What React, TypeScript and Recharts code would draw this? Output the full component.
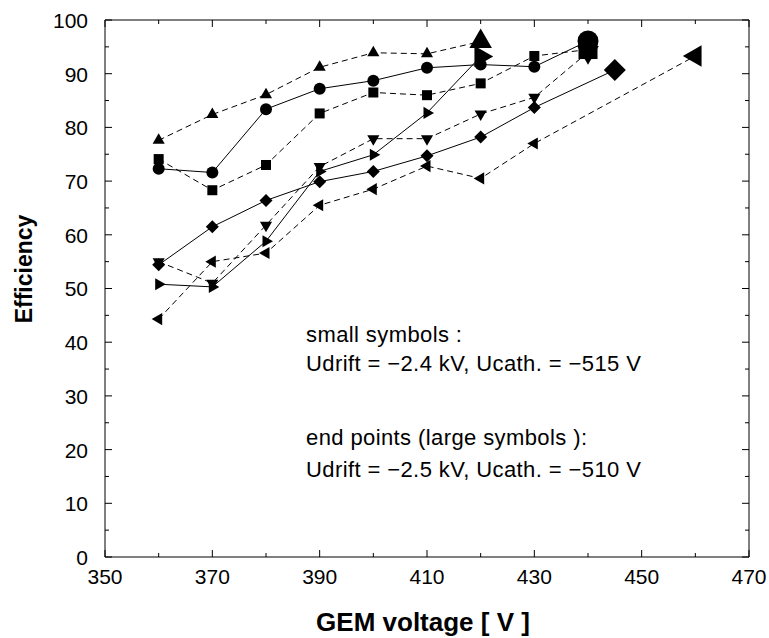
import React from 'react';
import { LineChart, Line, XAxis, YAxis } from 'recharts';

// GEM voltage [V] and efficiency values per marker series
const triUpVoltage = [360, 370, 380, 390, 400, 410, 420];
const triUpEff = [77.6, 82.4, 86.1, 91.2, 93.9, 93.7, 96.0];

const squareVoltage = [360, 370, 380, 390, 400, 410, 420, 430, 440];
const squareEff = [74.1, 68.3, 73.0, 82.6, 86.5, 86.0, 88.2, 93.3, 94.5];

const triDownVoltage = [360, 370, 380, 390, 400, 410, 420, 430, 440];
const triDownEff = [55.0, 51.0, 61.8, 72.7, 77.9, 77.9, 82.5, 85.6, 94.0];

const circleVoltage = [360, 370, 380, 390, 400, 410, 420, 430, 440];
const circleEff = [72.3, 71.6, 83.4, 87.2, 88.7, 91.1, 91.7, 91.3, 96.1];

const triRightVoltage = [360, 370, 380, 390, 400, 410, 420];
const triRightEff = [50.8, 50.3, 58.8, 71.8, 74.9, 82.7, 93.2];

const diamondVoltage = [360, 370, 380, 390, 400, 410, 420, 430, 445];
const diamondEff = [54.4, 61.5, 66.4, 69.9, 71.8, 74.7, 78.2, 83.7, 90.7];

const triLeftVoltage = [360, 370, 380, 390, 400, 410, 420, 430, 460];
const triLeftEff = [44.3, 55.0, 56.6, 65.5, 68.5, 72.8, 70.5, 77.0, 93.3];

const xTicks = [350, 360, 370, 380, 390, 400, 410, 420, 430, 440, 450, 460, 470];
const yTicks = [0, 5, 10, 15, 20, 25, 30, 35, 40, 45, 50, 55, 60, 65, 70, 75, 80, 85, 90, 95, 100];

const annotationLines = [
  'small symbols :',
  'Udrift = \u22122.4 kV, Ucath. = \u2212515 V',
  'end points (large symbols ):',
  'Udrift = \u22122.5 kV, Ucath. = \u2212510 V',
];

const FONT = '"Liberation Sans", Arial, Helvetica, sans-serif';

type Pt = { v: number; e: number };
const zip = (xs: number[], ys: number[]): Pt[] => xs.map((v, i) => ({ v, e: ys[i] }));

const series = [
  { key: 'triUp', shape: 'triUp', dashed: true, data: zip(triUpVoltage, triUpEff) },
  { key: 'square', shape: 'square', dashed: true, data: zip(squareVoltage, squareEff) },
  { key: 'triDown', shape: 'triDown', dashed: true, data: zip(triDownVoltage, triDownEff) },
  { key: 'circle', shape: 'circle', dashed: false, data: zip(circleVoltage, circleEff) },
  { key: 'triRight', shape: 'triRight', dashed: false, data: zip(triRightVoltage, triRightEff) },
  { key: 'diamond', shape: 'diamond', dashed: false, data: zip(diamondVoltage, diamondEff) },
  { key: 'triLeft', shape: 'triLeft', dashed: true, data: zip(triLeftVoltage, triLeftEff) },
];

function Marker({ cx, cy, shape, large }: { cx: number; cy: number; shape: string; large: boolean }) {
  if (cx == null || cy == null || isNaN(cx) || isNaN(cy)) return null;
  const f = '#000';
  switch (shape) {
    case 'circle': {
      return <circle cx={cx} cy={cy} r={large ? 10.5 : 6} fill={f} />;
    }
    case 'square': {
      const s = large ? 19 : 10;
      return <rect x={cx - s / 2} y={cy - s / 2} width={s} height={s} fill={f} />;
    }
    case 'diamond': {
      const d = large ? 11 : 6.5;
      return <polygon points={`${cx},${cy - d} ${cx + d},${cy} ${cx},${cy + d} ${cx - d},${cy}`} fill={f} />;
    }
    case 'triUp': {
      const r = large ? 13 : 7;
      return <polygon points={`${cx},${cy - r} ${cx + 0.866 * r},${cy + 0.5 * r} ${cx - 0.866 * r},${cy + 0.5 * r}`} fill={f} />;
    }
    case 'triDown': {
      const r = large ? 12.5 : 7;
      return <polygon points={`${cx},${cy + r} ${cx + 0.866 * r},${cy - 0.5 * r} ${cx - 0.866 * r},${cy - 0.5 * r}`} fill={f} />;
    }
    case 'triRight': {
      const r = large ? 12.5 : 7;
      return <polygon points={`${cx + r},${cy} ${cx - 0.5 * r},${cy - 0.866 * r} ${cx - 0.5 * r},${cy + 0.866 * r}`} fill={f} />;
    }
    case 'triLeft': {
      const r = large ? 12.5 : 7;
      return <polygon points={`${cx - r},${cy} ${cx + 0.5 * r},${cy - 0.866 * r} ${cx + 0.5 * r},${cy + 0.866 * r}`} fill={f} />;
    }
    default:
      return null;
  }
}

const isMajorX = (v: number) => (v - 350) % 20 === 0;
const isMajorY = (v: number) => v % 10 === 0;

const BottomTick = (props: any) => {
  const { x, y, payload } = props;
  const v = payload.value;
  const major = isMajorX(v);
  return (
    <g>
      <line x1={x} x2={x} y1={y} y2={y - (major ? 7 : 4)} stroke="#000" strokeWidth={1} />
      {major && (
        <text x={x} y={y + 27} textAnchor="middle" fontSize={21} fontFamily={FONT} fill="#000">
          {v}
        </text>
      )}
    </g>
  );
};

const TopTick = (props: any) => {
  const { x, y, payload } = props;
  const major = isMajorX(payload.value);
  return <line x1={x} x2={x} y1={y} y2={y + (major ? 7 : 4)} stroke="#000" strokeWidth={1} />;
};

const LeftTick = (props: any) => {
  const { x, y, payload } = props;
  const v = payload.value;
  const major = isMajorY(v);
  return (
    <g>
      <line x1={x} x2={x + (major ? 7 : 4)} y1={y} y2={y} stroke="#000" strokeWidth={1} />
      {major && (
        <text x={x - 17} y={y} dy="0.38em" textAnchor="end" fontSize={21} fontFamily={FONT} fill="#000">
          {v}
        </text>
      )}
    </g>
  );
};

const RightTick = (props: any) => {
  const { x, y, payload } = props;
  const major = isMajorY(payload.value);
  return <line x1={x} x2={x - (major ? 7 : 4)} y1={y} y2={y} stroke="#000" strokeWidth={1} />;
};

export default function App() {
  return (
    <div style={{ width: 769, height: 638 }}>
      <style>{`html,body{margin:0;padding:0;overflow:hidden;background:#fff}`}</style>
      <LineChart width={769} height={638} margin={{ top: 19, right: 10, bottom: 41, left: 45 }}>
        <XAxis
          xAxisId="b"
          dataKey="v"
          type="number"
          domain={[350, 470]}
          ticks={xTicks}
          interval={0}
          tickSize={0}
          tickMargin={0}
          tickLine={false}
          tick={<BottomTick />}
          height={40}
          axisLine={{ stroke: '#000', strokeWidth: 1 }}
          allowDataOverflow
        />
        <XAxis
          xAxisId="t"
          orientation="top"
          dataKey="v"
          type="number"
          domain={[350, 470]}
          ticks={xTicks}
          interval={0}
          tickSize={0}
          tickMargin={0}
          tickLine={false}
          tick={<TopTick />}
          height={1}
          axisLine={{ stroke: '#000', strokeWidth: 1 }}
          allowDataOverflow
        />
        <YAxis
          yAxisId="l"
          type="number"
          domain={[0, 100]}
          ticks={yTicks}
          interval={0}
          tickSize={0}
          tickMargin={0}
          tickLine={false}
          tick={<LeftTick />}
          width={60}
          axisLine={{ stroke: '#000', strokeWidth: 1 }}
          allowDataOverflow
        />
        <YAxis
          yAxisId="r"
          orientation="right"
          type="number"
          domain={[0, 100]}
          ticks={yTicks}
          interval={0}
          tickSize={0}
          tickMargin={0}
          tickLine={false}
          tick={<RightTick />}
          width={10}
          axisLine={{ stroke: '#000', strokeWidth: 1 }}
          allowDataOverflow
        />
        {series.map((s) => (
          <Line
            key={s.key}
            xAxisId="b"
            yAxisId="l"
            data={s.data}
            dataKey="e"
            type="linear"
            stroke="#000"
            strokeWidth={1}
            strokeDasharray={s.dashed ? '6 4' : undefined}
            isAnimationActive={false}
            legendType="none"
            activeDot={false}
            dot={(p: any) => (
              <Marker
                key={`${s.key}-${p.index}`}
                cx={p.cx}
                cy={p.cy}
                shape={s.shape}
                large={p.index === s.data.length - 1}
              />
            )}
          />
        ))}
        <text
          x={24}
          y={269}
          transform="rotate(-90 24 269)"
          textAnchor="middle"
          dominantBaseline="central"
          fontSize={23}
          fontWeight="bold"
          fontFamily={FONT}
          fill="#000"
        >
          Efficiency
        </text>
        <text x={423} y={631} textAnchor="middle" fontSize={26} fontWeight="bold" fontFamily={FONT} fill="#000">
          GEM voltage [ V ]
        </text>
        {annotationLines.map((t, i) => (
          <text
            key={i}
            x={306}
            y={[342, 371, 445, 477][i]}
            fontSize={22}
            letterSpacing={0.4}
            fontFamily={FONT}
            fill="#000"
          >
            {t}
          </text>
        ))}
      </LineChart>
    </div>
  );
}
